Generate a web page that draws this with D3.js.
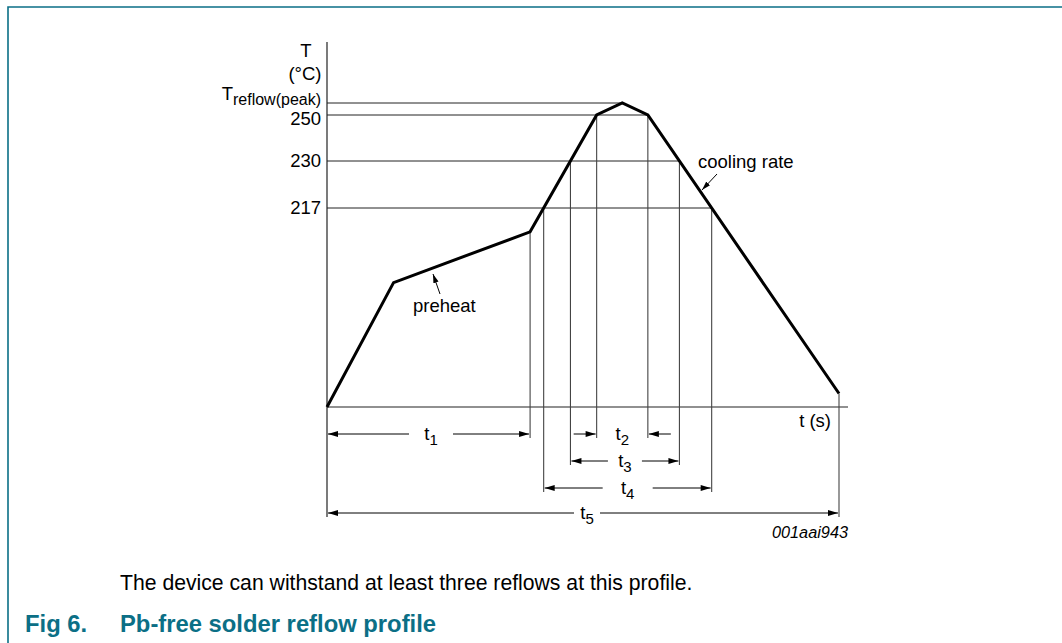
<!DOCTYPE html>
<html><head><meta charset="utf-8">
<script src="https://cdn.jsdelivr.net/npm/d3@7"></script>
<style>
html,body{margin:0;padding:0;background:#fff;}
svg{display:block;font-family:"Liberation Sans",Arial,sans-serif;}
</style></head>
<body><svg id="c" width="1062" height="643"></svg>
<script>
// ---- data ----
const profileTime = [0, 39, 119, 158, 173, 188, 300];      // s (schematic)
const profileTemp = [25, 145, 194, 250, 260, 250, 38];     // °C (schematic)
const tempLevels = [217, 230, 250];                        // labelled levels
const peakTemp = 260;
const tempLabels = ["217", "230", "250"];
const dimLabels = ["1", "2", "3", "4", "5"];
const captionText = "The device can withstand at least three reflows at this profile.";
const figNum = "Fig 6.";
const figTitle = "Pb-free solder reflow profile";
const codeText = "001aai943";

// ---- scales (schematic, piecewise) ----
const x = d3.scaleLinear().domain([0, 300]).range([327, 839]);
const y = d3.scaleLinear().domain([25, 217, 230, 250, 260]).range([407, 208, 161, 115, 103]);

const svg = d3.select("#c");
const teal = "#0b6f86";
const thin = "#222";

// border
svg.append("path").attr("d","M8,643 V7 H1062").attr("fill","none").attr("stroke",teal).attr("stroke-width",1.6);

// defs arrow
const defs = svg.append("defs");
defs.append("marker").attr("id","ah").attr("viewBox","0 0 10 6").attr("refX",10).attr("refY",3)
  .attr("markerWidth",12).attr("markerHeight",6).attr("markerUnits","userSpaceOnUse").attr("orient","auto")
  .append("path").attr("d","M0,0 L10,3 L0,6 Z").attr("fill","#000");
defs.append("marker").attr("id","ahs").attr("viewBox","0 0 10 6").attr("refX",10).attr("refY",3)
  .attr("markerWidth",9).attr("markerHeight",6).attr("markerUnits","userSpaceOnUse").attr("orient","auto")
  .append("path").attr("d","M0,0 L10,3 L0,6 Z").attr("fill","#000");

const pts = profileTime.map((t,i)=>[x(t), y(profileTemp[i])]);
// crossing in pixel space
function crossings(py){
  const out=[];
  for(let i=0;i<pts.length-1;i++){
    const [x0,y0]=pts[i],[x1,y1]=pts[i+1];
    if((y0-py)*(y1-py)<=0 && y0!==y1){
      const f=(py-y0)/(y1-y0); out.push(x0+f*(x1-x0));
    }
  }
  return out;
}
const cross = {};
tempLevels.forEach(L=>{ let c=crossings(y(L)); cross[L]=[c[0], c[c.length-1]]; });

const yAxisX = x(0), baseY = y(25);
const xEnd = x(300);
const dimY = [434, 434, 461, 488, 513];

// axes
svg.append("line").attr("x1",yAxisX).attr("x2",yAxisX).attr("y1",42).attr("y2",dimY[4]+4).attr("stroke",thin).attr("stroke-width",1.2);
svg.append("line").attr("x1",yAxisX).attr("x2",848).attr("y1",baseY).attr("y2",baseY).attr("stroke",thin).attr("stroke-width",1.2);

// horizontal level lines
svg.append("line").attr("x1",yAxisX).attr("x2",pts[4][0]).attr("y1",y(peakTemp)).attr("y2",y(peakTemp)).attr("stroke",thin);
tempLevels.forEach(L=>{
  svg.append("line").attr("x1",yAxisX).attr("x2",cross[L][1]).attr("y1",y(L)).attr("y2",y(L)).attr("stroke",thin);
});

// vertical lines
const vlines = [
  [pts[2][0], pts[2][1], dimY[0]+4],
  [cross[217][0], y(217), dimY[3]+4],
  [cross[230][0], y(230), dimY[2]+4],
  [cross[250][0], y(250), dimY[1]+4],
  [cross[250][1], y(250), dimY[1]+4],
  [cross[230][1], y(230), dimY[2]+4],
  [cross[217][1], y(217), dimY[3]+4],
  [pts[6][0], pts[6][1], dimY[4]+4]
];
vlines.forEach(v=>svg.append("line").attr("x1",v[0]).attr("x2",v[0]).attr("y1",v[1]).attr("y2",v[2]).attr("stroke","#444").attr("stroke-width",1.1));

// profile
svg.append("path").attr("d",d3.line()(pts)).attr("fill","none").attr("stroke","#000").attr("stroke-width",3).attr("stroke-linejoin","miter");

// labels y
const fs = 18.5;
svg.append("text").attr("x",306).attr("y",57).attr("text-anchor","middle").attr("font-size",fs).text("T");
svg.append("text").attr("x",305).attr("y",80).attr("text-anchor","middle").attr("font-size",fs).text("(°C)");
const tp = svg.append("text").attr("x",321).attr("y",y(peakTemp)-3).attr("text-anchor","end").attr("font-size",fs);
tp.append("tspan").text("T");
tp.append("tspan").attr("font-size",16).attr("dy",5).text("reflow(peak)");
tempLevels.forEach((L,i)=>{
  svg.append("text").attr("x",321).attr("y",y(L)+(i===2?10:6)).attr("text-anchor","end").attr("font-size",fs).text(tempLabels[i]);
});
svg.append("text").attr("x",831).attr("y",427).attr("text-anchor","end").attr("font-size",fs).text("t (s)");

// dimension helper
function sub(g, cx, cy, n){
  const t=g.append("text").attr("x",cx).attr("y",cy+6).attr("text-anchor","middle").attr("font-size",fs);
  t.append("tspan").text("t");
  t.append("tspan").attr("font-size",15).attr("dy",5).text(n);
}
function dimOut(xa, xb, yy, n, cx, gap){
  cx = cx ?? (xa+xb)/2;
  const g=svg.append("g");
  g.append("line").attr("x1",cx-gap).attr("x2",xa+1).attr("y1",yy).attr("y2",yy).attr("stroke","#000").attr("marker-end","url(#ah)");
  g.append("line").attr("x1",cx+gap).attr("x2",xb-1).attr("y1",yy).attr("y2",yy).attr("stroke","#000").attr("marker-end","url(#ah)");
  sub(g,cx,yy,n);
}
dimOut(yAxisX, pts[2][0], dimY[0], dimLabels[0], 431, 22);
// t2 inward
(function(){
  const xa=cross[250][0], xb=cross[250][1], yy=dimY[1];
  svg.append("line").attr("x1",xa-23).attr("x2",xa-1).attr("y1",yy).attr("y2",yy).attr("stroke","#000").attr("marker-end","url(#ah)");
  svg.append("line").attr("x1",xb+23).attr("x2",xb+1).attr("y1",yy).attr("y2",yy).attr("stroke","#000").attr("marker-end","url(#ah)");
  sub(svg,(xa+xb)/2,yy,dimLabels[1]);
})();
dimOut(cross[230][0], cross[230][1], dimY[2], dimLabels[2], null, 17);
dimOut(cross[217][0], cross[217][1], dimY[3], dimLabels[3], null, 25);
dimOut(yAxisX, xEnd, dimY[4], dimLabels[4], 587, 13);

// annotations
svg.append("text").attr("x",698).attr("y",168).attr("font-size",fs).text("cooling rate");
svg.append("line").attr("x1",717).attr("y1",174).attr("x2",702).attr("y2",190).attr("stroke","#000").attr("marker-end","url(#ahs)");
svg.append("text").attr("x",413).attr("y",312).attr("font-size",fs).text("preheat");
svg.append("line").attr("x1",440).attr("y1",294).attr("x2",433).attr("y2",274).attr("stroke","#000").attr("marker-end","url(#ahs)");

svg.append("text").attr("x",848).attr("y",538).attr("text-anchor","end").attr("font-size",16.3).attr("font-style","italic").text(codeText);

// caption
svg.append("text").attr("x",120).attr("y",590).attr("font-size",21.2).text(captionText);
svg.append("text").attr("x",25).attr("y",632).attr("font-size",23.8).attr("font-weight","bold").attr("fill",teal).text(figNum);
svg.append("text").attr("x",120).attr("y",632).attr("font-size",23.8).attr("font-weight","bold").attr("fill",teal).text(figTitle);
</script></body></html>
